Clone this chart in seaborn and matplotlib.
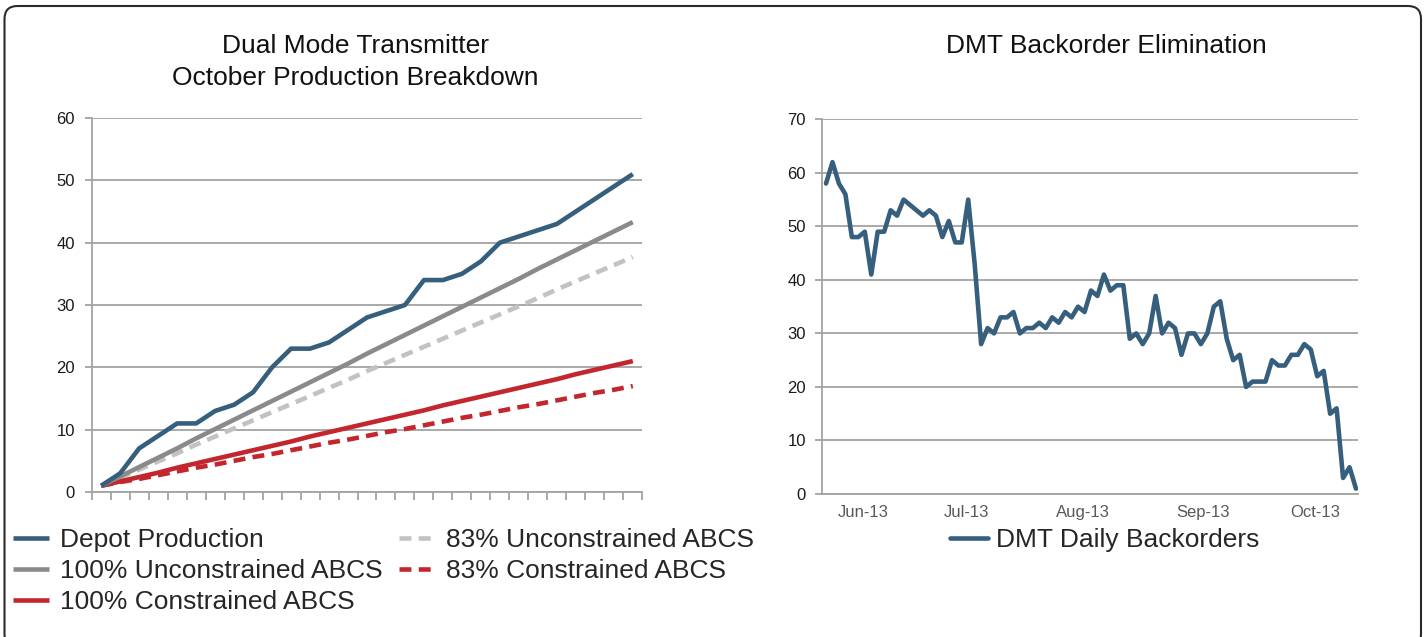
import matplotlib
matplotlib.use("Agg")
import matplotlib.pyplot as plt
from matplotlib.patches import FancyBboxPatch
import seaborn as sns
import numpy as np
import pandas as pd

# ---------------- data ----------------
day_index = list(range(1, 30))
depot_production = [1, 3, 7, 9, 11, 11, 13, 14, 16, 20, 23, 23, 24, 26, 28, 29,
                    30, 34, 34, 35, 37, 40, 41, 42, 43, 45, 47, 49, 51]
unconstrained_100 = [1.0, 2.5, 4.0, 5.5, 7.0, 8.6, 10.1, 11.6, 13.1, 14.6, 16.1, 17.6,
                     19.1, 20.6, 22.2, 23.7, 25.2, 26.7, 28.2, 29.7, 31.2, 32.7,
                     34.2, 35.8, 37.3, 38.8, 40.3, 41.8, 43.3]
unconstrained_83 = [1.0, 2.3, 3.6, 4.9, 6.2, 7.6, 8.9, 10.2, 11.5, 12.8, 14.1, 15.4,
                    16.7, 18.0, 19.4, 20.7, 22.0, 23.3, 24.6, 25.9, 27.2, 28.5,
                    29.8, 31.1, 32.5, 33.8, 35.1, 36.4, 37.7]
constrained_100 = [1.0, 1.7, 2.4, 3.1, 3.9, 4.6, 5.3, 6.0, 6.7, 7.4, 8.1, 8.9,
                   9.6, 10.3, 11.0, 11.7, 12.4, 13.1, 13.9, 14.6, 15.3, 16.0,
                   16.7, 17.4, 18.1, 18.9, 19.6, 20.3, 21.0]
constrained_83 = [1.0, 1.6, 2.1, 2.7, 3.3, 3.9, 4.4, 5.0, 5.6, 6.1, 6.7, 7.3,
                  7.9, 8.4, 9.0, 9.6, 10.1, 10.7, 11.3, 11.9, 12.4, 13.0,
                  13.6, 14.1, 14.7, 15.3, 15.9, 16.4, 17.0]

dmt_backorders = [58, 62, 58, 56, 48, 48, 49, 41, 49, 49, 53, 52, 55, 54, 53, 52, 53,
                  52, 48, 51, 47, 47, 55, 43, 28, 31, 30, 33, 33, 34, 30, 31, 31, 32,
                  31, 33, 32, 34, 33, 35, 34, 38, 37, 41, 38, 39, 39, 29, 30, 28, 30,
                  37, 30, 32, 31, 26, 30, 30, 28, 30, 35, 36, 29, 25, 26, 20, 21, 21,
                  21, 25, 24, 24, 26, 26, 28, 27, 22, 23, 15, 16, 3, 5, 1]
month_labels = ["Jun-13", "Jul-13", "Aug-13", "Sep-13", "Oct-13"]
month_label_pos = [5.7, 21.8, 39.7, 58.3, 75.7]

series_names = ["Depot Production", "100% Unconstrained ABCS", "100% Constrained ABCS",
                "83% Unconstrained ABCS", "83% Constrained ABCS"]

# ---------------- style ----------------
sns.set_theme(style="white")
plt.rcParams["font.family"] = ["Liberation Sans", "DejaVu Sans"]

BLUE = "#365F7E"
GRAY = "#8A8A8A"
LGRAY = "#C2C2C2"
RED = "#C4262E"
GRID = "#A3A3A3"
LW = 3.3

W, H = 1424, 637
fig = plt.figure(figsize=(W / 100, H / 100), dpi=100)
fig.patch.set_facecolor("white")

def fx(px):
    return px / W

def fy(py):
    return 1 - py / H

# border
border = FancyBboxPatch((4.5 / 100, -0.1), (1421 - 4.5) / 100, (637 - 6) / 100 + 0.1,
                        boxstyle="round,pad=0,rounding_size=0.13",
                        transform=fig.dpi_scale_trans, facecolor="none",
                        edgecolor="#2b2b2b", linewidth=1.5, clip_on=False)
fig.patches.append(border)

# ---------------- left chart ----------------
axL = fig.add_axes([fx(91.7), fy(492), fx(642.3) - fx(91.7), fy(118) - fy(492)])
x_idx = np.arange(len(day_index))
styles = [
    (depot_production, BLUE, "-"),
    (unconstrained_100, GRAY, "-"),
    (constrained_100, RED, "-"),
    (unconstrained_83, LGRAY, (0, (2.6, 1.6))),
    (constrained_83, RED, (0, (2.6, 1.6))),
]
draw_order = [3, 4, 2, 1, 0]
lines = {}
for i in draw_order:
    vals, col, ls = styles[i]
    sns.lineplot(x=x_idx, y=vals, ax=axL, color=col, linewidth=LW, linestyle=ls,
                 label=series_names[i], solid_capstyle="butt", dash_capstyle="butt")
    lines[i] = axL.get_lines()[-1]

axL.set_xlim(-0.5, len(day_index) - 0.5)
axL.set_ylim(0, 60)
axL.set_yticks(range(0, 61, 10))
axL.set_xticks(np.arange(-0.5, len(day_index), 1.0))
axL.set_xticklabels([])
axL.yaxis.grid(True, color=GRID, linewidth=1.3)
axL.set_axisbelow(True)
for s in ["top", "right"]:
    axL.spines[s].set_visible(False)
for s in ["left", "bottom"]:
    axL.spines[s].set_color(GRID)
    axL.spines[s].set_linewidth(1.3)
axL.tick_params(axis="x", direction="out", length=6, width=1.3, color=GRID, bottom=True)
axL.tick_params(axis="y", direction="out", length=5, width=1.3, color=GRID, left=True,
                labelsize=12, labelcolor="#1a1a1a", pad=7)
axL.set_xlabel("")
axL.set_ylabel("")
if axL.get_legend():
    axL.get_legend().remove()

handles = [lines[i] for i in range(5)]
fig.legend(handles, series_names, loc="upper left",
           bbox_to_anchor=(fx(13), fy(528)), ncol=2, frameon=False,
           fontsize=19, handlelength=1.35, handletextpad=0.45,
           columnspacing=0.6, labelspacing=0.27, borderpad=0, borderaxespad=0)

fig.text(fx(355), fy(46), "Dual Mode Transmitter", ha="center", va="center",
         fontsize=19, color="#111111")
fig.text(fx(355), fy(78), "October Production Breakdown", ha="center", va="center",
         fontsize=19, color="#111111")

# ---------------- right chart ----------------
axR = fig.add_axes([fx(822), fy(494), fx(1358) - fx(822), fy(119.3) - fy(494)])
xr = np.arange(len(dmt_backorders))
sns.lineplot(x=xr, y=dmt_backorders, ax=axR, color=BLUE, linewidth=LW,
             label="DMT Daily Backorders")
axR.set_xlim(-0.62, len(dmt_backorders) - 1 + 0.31)
axR.set_ylim(0, 70)
axR.set_yticks(range(0, 71, 10))
axR.set_xticks(month_label_pos)
axR.set_xticklabels(month_labels)
axR.yaxis.grid(True, color=GRID, linewidth=1.3)
axR.set_axisbelow(True)
for s in ["top", "right"]:
    axR.spines[s].set_visible(False)
for s in ["left", "bottom"]:
    axR.spines[s].set_color(GRID)
    axR.spines[s].set_linewidth(1.3)
axR.tick_params(axis="x", length=0, labelsize=12, labelcolor="#595959", pad=8)
axR.tick_params(axis="y", direction="out", length=5, width=1.3, color=GRID, left=True,
                labelsize=12, labelcolor="#1a1a1a", pad=6.5)
axR.set_xlabel("")
axR.set_ylabel("")
axR.legend(loc="upper left", bbox_to_anchor=(fx(950), fy(528)),
           bbox_transform=fig.transFigure, frameon=False, fontsize=19,
           handlelength=1.45, handletextpad=0.3, borderpad=0, borderaxespad=0)

fig.text(fx(1106), fy(46), "DMT Backorder Elimination", ha="center", va="center",
         fontsize=19, color="#111111")

fig.savefig("out.png", dpi=100, facecolor="white")
